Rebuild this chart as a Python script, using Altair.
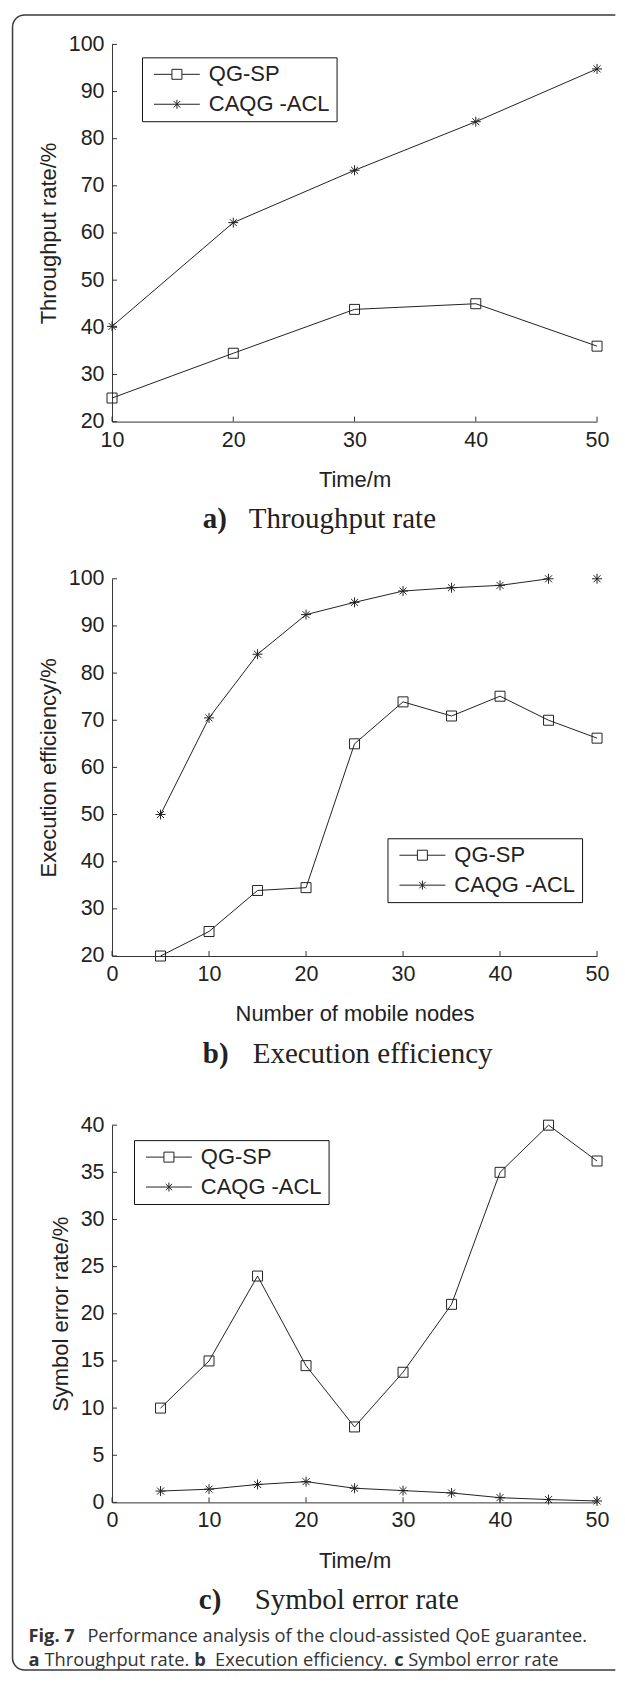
import altair as alt
import pandas as pd

SERIES = ["QG-SP", "CAQG -ACL"]

# ---- panel a : throughput rate
time_a = [10, 20, 30, 40, 50]
qg_a = [25.0, 34.5, 43.8, 45.0, 36.0]
caqg_a = [40.2, 62.2, 73.3, 83.6, 94.8]
xt_a = [10, 20, 30, 40, 50]
yt_a = [20, 30, 40, 50, 60, 70, 80, 90, 100]

# ---- panel b : execution efficiency
nodes_b = [5, 10, 15, 20, 25, 30, 35, 40, 45, 50]
qg_b = [20.0, 25.2, 33.9, 34.5, 65.0, 73.9, 70.9, 75.1, 70.0, 66.2]
caqg_b = [50.0, 70.5, 84.0, 92.4, 95.0, 97.4, 98.1, 98.6, 100.0, 100.0]
xt_b = [0, 10, 20, 30, 40, 50]
yt_b = [20, 30, 40, 50, 60, 70, 80, 90, 100]

# ---- panel c : symbol error rate
time_c = [5, 10, 15, 20, 25, 30, 35, 40, 45, 50]
qg_c = [10.0, 15.0, 24.0, 14.5, 8.0, 13.8, 21.0, 35.0, 40.0, 36.2]
caqg_c = [1.2, 1.4, 1.9, 2.2, 1.5, 1.25, 1.0, 0.5, 0.3, 0.15]
xt_c = [0, 10, 20, 30, 40, 50]
yt_c = [0, 5, 10, 15, 20, 25, 30, 35, 40]

subtitles = [("a)", "Throughput rate"), ("b)", "Execution efficiency"), ("c)", "Symbol error rate")]
caption_1 = [("Fig. 7", "bold"), ("Performance analysis of the cloud-assisted QoE guarantee.", "normal")]
caption_2 = [("a", "bold"), ("Throughput rate.", "normal"), ("b", "bold"),
             ("Execution efficiency.", "normal"), ("c", "bold"), ("Symbol error rate", "normal")]

W, H = 486, 378
TOP_C = 12            # empty band above panel c's plot (gives it extra distance from panel b)
SPACING = 157.5
FONT = "Liberation Sans"
SERIF = "Liberation Serif"
INK = "#222222"
AXC = "#333333"

AST = "M-1,0H1M0,-1V1M-0.7,-0.7L0.7,0.7M-0.7,0.7L0.7,-0.7"
LEG_SQ = "M-0.5,0H1.3M2.3,0H4.1M1.3,-0.5H2.3V0.5H1.3Z"
LEG_AST = "M-0.5,0H4.1M1.8,-0.45V0.45M1.48,-0.32L2.12,0.32M1.48,0.32L2.12,-0.32"


def text_layer(txt, x, y, font, size, weight, color=INK):
    return alt.Chart(pd.DataFrame({"t": [txt]})).mark_text(
        font=font, fontSize=size, fontWeight=weight, align="left",
        baseline="alphabetic", color=color
    ).encode(x=alt.value(x), y=alt.value(y), text="t:N")


def panel(xs, qg, caqg, xdom, ydom, xticks, yticks, xtitle, ytitle,
          leg_x, leg_y, sub, sub_x, top=0, line_filter=None, extra=None):
    vh = H + top
    df = pd.DataFrame({
        "x": list(xs) * 2,
        "y": list(qg) + list(caqg),
        "series": [SERIES[0]] * len(xs) + [SERIES[1]] * len(xs),
    })
    xsc = alt.Scale(domain=xdom, nice=False, zero=False)
    ysc = alt.Scale(domain=ydom, nice=False, zero=False, range=[vh, top])
    xax = alt.Axis(values=xticks, title=xtitle, format="d", labelFlush=False)
    yax = alt.Axis(values=yticks, title=ytitle, format="d", labelFlush=False)

    def X(f):
        return alt.X(f, scale=xsc, axis=xax, title=xtitle)

    def Y(f):
        return alt.Y(f, scale=ysc, axis=yax, title=ytitle)

    base = alt.Chart(df)

    line = base.mark_line(color=INK, strokeWidth=1).encode(
        x=X("x:Q"), y=Y("y:Q"), detail="series:N",
    )
    if line_filter:
        line = line.transform_filter(line_filter)

    pts = base.mark_point(filled=False, color=INK, strokeWidth=1, size=100, opacity=1).encode(
        x=X("x:Q"), y=Y("y:Q"),
        shape=alt.Shape("series:N", scale=alt.Scale(domain=SERIES, range=["square", AST]), legend=None),
    )

    leg = base.mark_point(filled=False, color=INK, strokeWidth=1, opacity=1).encode(
        x=X("x:Q"), y=Y("y:Q"),
        shape=alt.Shape(
            "series:N",
            scale=alt.Scale(domain=SERIES, range=[LEG_SQ, LEG_AST]),
            legend=alt.Legend(
                title=None, orient="none", legendX=leg_x, legendY=leg_y + top,
                symbolSize=400, symbolStrokeWidth=1, symbolStrokeColor=INK,
                symbolFillColor="transparent",
                labelFont=FONT, labelFontSize=22, labelColor=INK, labelOffset=39,
                strokeColor="#111111", fillColor="white", padding=6, rowPadding=8,
            ),
        ),
    ).transform_filter("false")

    tx = alt.Chart(pd.DataFrame({"x": xticks})).mark_rule(color=AXC, strokeWidth=1).encode(
        x=X("x:Q"), y=alt.value(vh), y2=alt.value(vh - 5))
    ty = alt.Chart(pd.DataFrame({"y": yticks})).mark_rule(color=AXC, strokeWidth=1).encode(
        y=Y("y:Q"), x=alt.value(0), x2=alt.value(5))

    s1 = text_layer(sub[0], sub_x[0], 485 + top, SERIF, 29, "bold")
    s2 = text_layer(sub[1], sub_x[1], 485 + top, SERIF, 29, "normal")

    layers = [line, pts, tx, ty, leg, s1, s2] + (extra or [])
    return alt.layer(*layers).resolve_scale(shape="independent").properties(width=W, height=vh)


pa = panel(time_a, qg_a, caqg_a, [10, 50], [20, 100], xt_a, yt_a, "Time/m", "Throughput rate/%",
           30, 13, subtitles[0], (91, 137))

pb = panel(nodes_b, qg_b, caqg_b, [0, 50], [20, 100], xt_b, yt_b, "Number of mobile nodes",
           "Execution efficiency/%", 276, 260, subtitles[1], (91, 141),
           line_filter="!(datum.series == 'CAQG -ACL' && datum.x == 50)")

# figure frame (open on the right, like the cropped original) and caption,
# placed in panel c's view coordinates
FR_X0, FR_X1, FR_Y0, FR_Y1, FR_R = -99.7, 504.3, -1100.5, 558.0, 12
fr_w, fr_h = FR_X1 - FR_X0, FR_Y1 - FR_Y0
border = alt.Chart(pd.DataFrame({"k": [1]})).mark_rect(
    fillOpacity=0, stroke="#3a3a3a", strokeWidth=1.5,
    cornerRadius=FR_R, cornerRadiusTopRight=0, cornerRadiusBottomRight=0,
    strokeDash=[fr_w - FR_R, fr_h, 6000],
).encode(x=alt.value(FR_X0), x2=alt.value(FR_X1), y=alt.value(FR_Y0), y2=alt.value(FR_Y1))

cap_x1 = [-83.7, -24.7]
cap_x2 = [-83.7, -67.7, 82.3, 103.3, 282.9, 296.8]
cap = []
for (t, w), x in zip(caption_1, cap_x1):
    cap.append(text_layer(t, x, 530, "Open Sans", 18.3, w, "#333333"))
for (t, w), x in zip(caption_2, cap_x2):
    cap.append(text_layer(t, x, 554, "Open Sans", 18.3, w, "#333333"))

pc = panel(time_c, qg_c, caqg_c, [0, 50], [0, 40], xt_c, yt_c, "Time/m", "Symbol error rate/%",
           22, 15, subtitles[2], (87, 143), top=TOP_C, extra=[border] + cap)

chart = alt.vconcat(pa, pb, pc, spacing=SPACING, bounds="flush").properties(
    padding={"left": 3.25, "top": 3.75, "right": 0, "bottom": 0}
).configure_view(stroke=None).configure_axis(
    labelFont=FONT, labelFontSize=21.5, labelColor=INK,
    titleFont=FONT, titleFontSize=22, titleFontWeight="normal", titleColor=INK,
    domainColor=AXC, domainWidth=1, ticks=False, tickSize=0, grid=False, labelPadding=8,
).configure_axisX(titlePadding=19, labelPadding=7.5).configure_axisY(titlePadding=8)

chart.save("out.html", embed_options={"renderer": "svg", "actions": False})
